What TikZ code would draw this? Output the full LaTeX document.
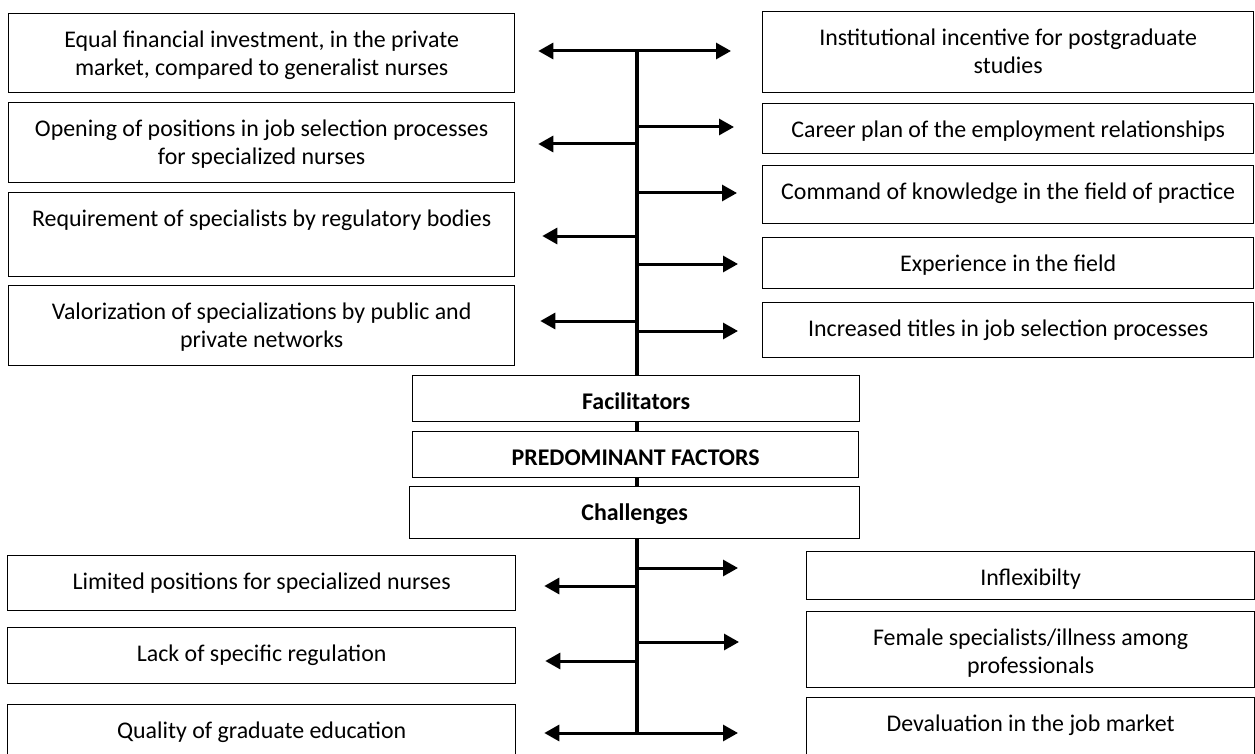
\documentclass[tikz,border=0pt]{standalone}
\usepackage{fontspec}
\setmainfont{Carlito}
\usetikzlibrary{arrows.meta}
\tikzset{
  factor/.style={draw, line width=1.3pt, inner sep=0pt, anchor=north west,
    font=\fontsize{23.9pt}{28.5pt}\selectfont},
  spine/.style={line width=3.4pt},
  branch/.style={line width=3pt, -{Triangle[length=15pt,width=16pt]}},
  twoway/.style={line width=3pt, {Triangle[length=15pt,width=16pt]}-{Triangle[length=15pt,width=16pt]}}
}
% text hangs from the top of the box
\newcommand{\toptext}[3]{\parbox[c][#2pt][t]{#1pt}{\centering\rule{0pt}{33.5pt}#3}}

\begin{document}
\begin{tikzpicture}[x=1pt,y=-1pt]
  \clip (0,0) rectangle (1255,754);
  % facilitators, left
  \node[factor] (eqinv) at (8,13) {\toptext{506}{79}{Equal financial investment, in the private\\ market, compared to generalist nurses}};
  \node[factor] (posit) at (8,102) {\toptext{506}{80}{Opening of positions in job selection processes\\ for specialized nurses}};
  \node[factor] (regul) at (8,192) {\toptext{506}{84}{Requirement of specialists by regulatory bodies}};
  \node[factor] (valor) at (8,285) {\toptext{506}{80}{Valorization of specializations by public and\\ private networks}};
  % facilitators, right
  \node[factor] (incent) at (762,11) {\toptext{491}{81}{Institutional incentive for postgraduate\\ studies}};
  \node[factor] (career) at (762,103) {\toptext{491}{50}{Career plan of the employment relationships}};
  \node[factor] (command) at (762,165) {\toptext{491}{58}{Command of knowledge in the field of practice}};
  \node[factor] (exper) at (762,237) {\toptext{491}{51}{Experience in the field}};
  \node[factor] (titles) at (762,302) {\toptext{491}{55}{Increased titles in job selection processes}};
  % middle column
  \node[factor] (fac) at (412,375) {\toptext{447}{46}{\bfseries Facilitators}};
  \node[factor] (pred) at (412,431) {\toptext{446}{46}{\bfseries PREDOMINANT FACTORS}};
  \node[factor] (chal) at (409,486) {\toptext{450}{52}{\bfseries Challenges}};
  % challenges, left
  \node[factor] (limit) at (7,555) {\toptext{508}{55}{Limited positions for specialized nurses}};
  \node[factor] (lack) at (7,627) {\toptext{508}{56}{Lack of specific regulation}};
  \node[factor] (quality) at (7,704) {\toptext{508}{60}{Quality of graduate education}};
  % challenges, right
  \node[factor] (inflex) at (806,551) {\toptext{448}{48}{Inflexibilty}};
  \node[factor] (female) at (806,611) {\toptext{448}{76}{Female specialists/illness among\\ professionals}};
  \node[factor] (deval) at (806,697) {\toptext{448}{70}{Devaluation in the job market}};

  % spine
  \coordinate (sptop) at (637,51);
  \coordinate (spbot) at (637,733);
  \draw[spine] (sptop) -- (sptop |- fac.north);
  \draw[spine] (sptop |- fac.south) -- (sptop |- pred.north);
  \draw[spine] (sptop |- pred.south) -- (sptop |- chal.north);
  \draw[spine] (sptop |- chal.south) -- (spbot);

  % branches
  \draw[twoway, shorten <=23pt, shorten >=31pt] (sptop -| eqinv.east) -- (sptop -| incent.west);
  \foreach \y/\n/\s in {144/posit/23, 236/regul/27, 321/valor/25, 586/limit/28, 661/lack/29}
    {\coordinate (j) at (637,\y);
     \draw[branch, shorten >=\s pt] (j) -- (j -| \n.east);}
  \foreach \y/\n/\s in {127/career/28, 193/command/25, 264/exper/24, 331/titles/24, 568/inflex/68, 642/female/67}
    {\coordinate (j) at (637,\y);
     \draw[branch, shorten >=\s pt] (j) -- (j -| \n.west);}
  \draw[twoway, shorten <=28pt, shorten >=68pt] (spbot -| quality.east) -- (spbot -| deval.west);
\end{tikzpicture}
\end{document}
